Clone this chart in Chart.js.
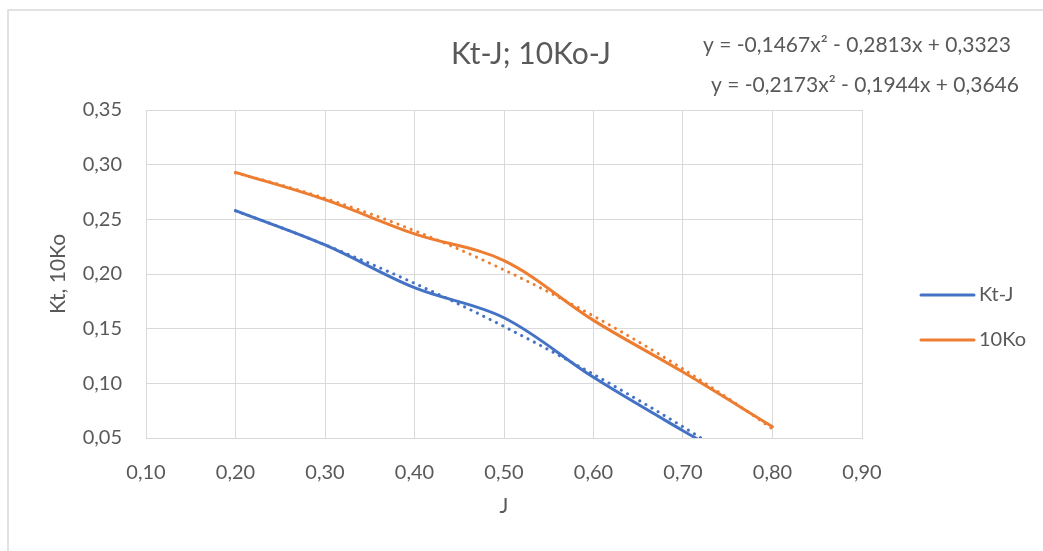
<!DOCTYPE html>
<html>
<head>
<meta charset="utf-8">
<title>Kt-J; 10Ko-J</title>
<script src="https://cdn.jsdelivr.net/npm/chart.js@4"></script>
<style>
  body { margin: 0; background: #fff; }
  #wrap { width: 1043px; height: 551px; position: relative; }
</style>
</head>
<body>
<div id="wrap"><canvas id="kt-chart" width="1043" height="551"></canvas></div>
<script>
// J values and measured coefficients
const jValues = [0.2, 0.3, 0.4, 0.5, 0.6, 0.7, 0.8];
const ktValues = [0.258, 0.2266, 0.1875, 0.160, 0.1055, 0.0567, 0.01];
const koValues = [0.293, 0.268, 0.2367, 0.2122, 0.1576, 0.1103, 0.0603];

const xTicks = [0.1, 0.2, 0.3, 0.4, 0.5, 0.6, 0.7, 0.8, 0.9];
const yTicks = [0.05, 0.1, 0.15, 0.2, 0.25, 0.3, 0.35];

const seriesNames = ["Kt-J", "10Ko"];
const trendLabels = [
  "y = -0,1467x\u00B2 - 0,2813x + 0,3323",
  "y = -0,2173x\u00B2 - 0,1944x + 0,3646",
];

const BLUE = "#4472C4";
const ORANGE = "#ED7D31";
const TEXT = "#595959";
const GRID = "#d9d9d9";
const FONT = "Lato, 'Open Sans', sans-serif";

// least squares fit y = a x^2 + b x + c
function quadFit(xs, ys) {
  let s = [0, 0, 0, 0, 0], t = [0, 0, 0];
  xs.forEach((x, i) => {
    for (let k = 0; k < 5; k++) s[k] += Math.pow(x, k);
    for (let k = 0; k < 3; k++) t[k] += ys[i] * Math.pow(x, k);
  });
  const m = [
    [s[4], s[3], s[2], t[2]],
    [s[3], s[2], s[1], t[1]],
    [s[2], s[1], s[0], t[0]],
  ];
  for (let i = 0; i < 3; i++) {
    for (let j = i + 1; j < 3; j++) {
      const f = m[j][i] / m[i][i];
      for (let k = i; k < 4; k++) m[j][k] -= f * m[i][k];
    }
  }
  const r = [0, 0, 0];
  for (let i = 2; i >= 0; i--) {
    let v = m[i][3];
    for (let k = i + 1; k < 3; k++) v -= m[i][k] * r[k];
    r[i] = v / m[i][i];
  }
  return r;
}

function trendPoints(ys) {
  const [a, b, c] = quadFit(jValues, ys);
  const pts = [];
  const x0 = jValues[0], x1 = jValues[jValues.length - 1];
  for (let i = 0; i <= 60; i++) {
    const x = x0 + (x1 - x0) * i / 60;
    pts.push({ x: x, y: a * x * x + b * x + c });
  }
  return pts;
}

const toXY = (ys) => jValues.map((x, i) => ({ x: x, y: ys[i] }));
const comma = (v) => v.toFixed(2).replace(".", ",");

// title, axis names, equations, legend and outer frame
const decorations = {
  id: "decorations",
  afterDraw(chart) {
    const ctx = chart.ctx;
    const area = chart.chartArea;
    ctx.save();

    ctx.strokeStyle = GRID;
    ctx.lineWidth = 1.5;
    ctx.beginPath();
    ctx.moveTo(8, 551);
    ctx.lineTo(8, 10);
    ctx.lineTo(1043, 10);
    ctx.stroke();

    ctx.fillStyle = TEXT;
    ctx.textAlign = "center";
    ctx.textBaseline = "middle";
    ctx.font = "30px " + FONT;
    ctx.fillText("Kt-J; 10Ko-J", 531, 54);

    ctx.font = "21px " + FONT;
    ctx.fillText("J", (area.left + area.right) / 2, 506);

    ctx.save();
    ctx.translate(58, (area.top + area.bottom) / 2);
    ctx.rotate(-Math.PI / 2);
    ctx.fillText("Kt, 10Ko", 0, 0);
    ctx.restore();

    ctx.textAlign = "left";
    ctx.font = "21px " + FONT;
    ctx.fillText(trendLabels[0], 703, 45);
    ctx.fillText(trendLabels[1], 711, 85);

    const colors = [BLUE, ORANGE];
    const rows = [295, 340];
    ctx.font = "20px " + FONT;
    seriesNames.forEach((name, i) => {
      ctx.strokeStyle = colors[i];
      ctx.lineWidth = 3;
      ctx.lineCap = "round";
      ctx.beginPath();
      ctx.moveTo(921, rows[i]);
      ctx.lineTo(974, rows[i]);
      ctx.stroke();
      ctx.fillStyle = TEXT;
      ctx.fillText(name, 979, rows[i]);
    });

    ctx.restore();
  },
};

const ctx = document.getElementById("kt-chart").getContext("2d");

new Chart(ctx, {
  type: "line",
  data: {
    datasets: [
      {
        label: seriesNames[0] + " trend",
        data: trendPoints(ktValues),
        borderColor: BLUE,
        borderWidth: 3,
        borderDash: [0.1, 7],
        borderCapStyle: "round",
        pointRadius: 0,
        tension: 0,
        order: 0,
      },
      {
        label: seriesNames[1] + " trend",
        data: trendPoints(koValues),
        borderColor: ORANGE,
        borderWidth: 3,
        borderDash: [0.1, 7],
        borderCapStyle: "round",
        pointRadius: 0,
        tension: 0,
        order: 0,
      },
      {
        label: seriesNames[0],
        data: toXY(ktValues),
        borderColor: BLUE,
        borderWidth: 3,
        borderCapStyle: "round",
        pointRadius: 0,
        tension: 0.35,
        order: 1,
      },
      {
        label: seriesNames[1],
        data: toXY(koValues),
        borderColor: ORANGE,
        borderWidth: 3,
        borderCapStyle: "round",
        pointRadius: 0,
        tension: 0.35,
        order: 1,
      },
    ],
  },
  options: {
    responsive: false,
    animation: false,
    layout: {
      padding: { top: 110, right: 181, left: 0, bottom: 0 },
    },
    plugins: {
      legend: { display: false },
      title: { display: false },
      tooltip: { enabled: false },
    },
    scales: {
      x: {
        type: "linear",
        min: xTicks[0],
        max: xTicks[xTicks.length - 1],
        afterBuildTicks: (scale) => {
          scale.ticks = xTicks.map((v) => ({ value: v }));
        },
        afterFit: (scale) => {
          scale.height = 113;
        },
        grid: { color: GRID, drawTicks: false },
        border: { color: GRID },
        ticks: {
          color: TEXT,
          padding: 23,
          font: { family: FONT, size: 20 },
          callback: (v) => comma(v),
        },
      },
      y: {
        min: yTicks[0],
        max: yTicks[yTicks.length - 1],
        afterBuildTicks: (scale) => {
          scale.ticks = yTicks.map((v) => ({ value: v }));
        },
        afterFit: (scale) => {
          scale.width = 146;
        },
        grid: { color: GRID, drawTicks: false },
        border: { color: GRID },
        ticks: {
          color: TEXT,
          padding: 24,
          font: { family: FONT, size: 20 },
          callback: (v) => comma(v),
        },
      },
    },
  },
  plugins: [decorations],
});
</script>
</body>
</html>
